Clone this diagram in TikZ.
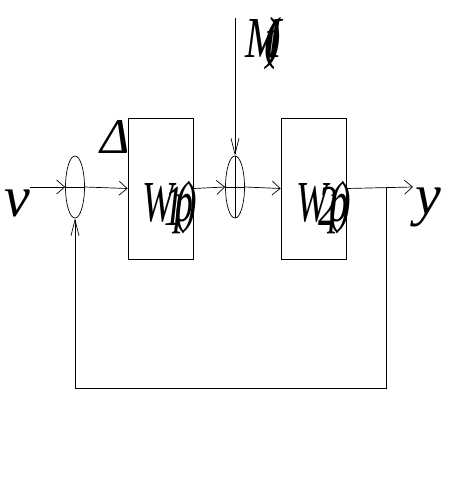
\documentclass[tikz,border=0pt]{standalone}
\usepackage{fontspec}
\usepackage{graphicx}
\setmainfont{Liberation Serif}
\usetikzlibrary{shapes.geometric,arrows.meta}
\newcommand{\narrowtext}[2][0.65]{\scalebox{#1}[1]{#2}}
\begin{document}
\begin{tikzpicture}[
			x=1pt, y=-1pt,
			sum/.style={ellipse, draw, inner sep=0pt, minimum width=19pt, minimum height=62pt},
			blk/.style={rectangle, draw, inner sep=0pt, minimum width=65pt, minimum height=141pt},
			lbl/.style={font=\itshape\fontsize{58}{60}\selectfont, inner sep=0pt},
			vert/.style={-{Straight Barb[length=16pt,width=8pt]}},
			>={Straight Barb[length=8pt,width=14pt]}, line width=0.7pt
			]
			\useasboundingbox (0,0) rectangle (448,480);
			% summing junctions
			\node[sum] (s1) at (75,187) {};
			\node[sum] (s2) at (235,187) {};
			\draw (s1.west) -- (s1.east);
			\draw (s2.west) -- (s2.east); \draw (s2.north) -- (s2.south);
			% blocks
			\node[blk] (b1) at (160.5,188.5) {};
			\node[blk] (b2) at (313.5,188.5) {};
			\node[lbl, anchor=base west] (w1) at (142,221) {\narrowtext{W\kern-0.25em\raisebox{-0.08em}{1}\kern-0.2em(\kern-0.35em p\kern-0.25em)}};
			\node[lbl, anchor=base west] (w2) at (296,221) {\narrowtext{W\kern-0.25em\raisebox{-0.08em}{2}\kern-0.2em(\kern-0.35em p\kern-0.25em)}};
			% signals
			\coordinate (vin) at (30,187);
			\coordinate (top) at (235,18);
			\coordinate (br) at (386,187);
			\coordinate (yout) at (413,187);
			\coordinate (fb1) at (386,388);
			\coordinate (fb2) at (75,388);
			\node[lbl, anchor=base west] (v) at (4,216) {v};
			\node[lbl, anchor=base west] (y) at (415,214) {y};
			\node[lbl, font=\itshape\fontsize{50}{52}\selectfont, anchor=base east] (d) at (130,153) {Δ};
			\node[lbl, anchor=base west] (m) at (245,57) {\narrowtext[0.75]{M\kern-0.4em(\kern-0.3em t\kern-0.25em)}};
			% connectors
			\draw[->] (vin) -- (s1.west);
			\draw[->] (s1.east) -- (b1.west);
			\draw[->] (b1.east) -- (s2.west);
			\draw[vert] (top) -- (s2.north);
			\draw[->] (s2.east) -- (b2.west);
			\draw[->] (b2.east) -- (yout);
			\draw[vert] (br) -- (fb1) -- (fb2) -- (s1.south);
		\end{tikzpicture}
\end{document}
